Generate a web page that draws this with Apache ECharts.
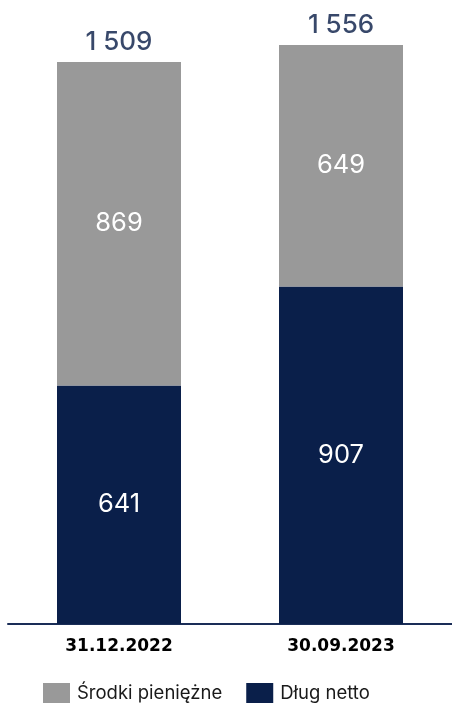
<!DOCTYPE html>
<html>
<head>
<meta charset="utf-8">
<script src="https://cdn.jsdelivr.net/npm/echarts@6/dist/echarts.min.js"></script>
<style>
  html, body { margin: 0; padding: 0; background: #ffffff; }
  #chart { width: 452px; height: 706px; }
</style>
</head>
<body>
<div id="chart"></div>
<script>
// Stacked bars: net debt at the bottom, cash on top, total above each column
const categories = ['31.12.2022', '30.09.2023'];
const netDebt = [641, 907];
const cash = [869, 649];
const totals = [1509, 1556];

const NAVY = '#0a1f4a';
const GREY = '#999999';
const FONT = 'Inter, "Noto Sans", sans-serif';

function fmt(v) {
  return String(v).replace(/\B(?=(\d{3})+(?!\d))/g, ' ');
}

const chart = echarts.init(document.getElementById('chart'), null, { renderer: 'canvas' });

chart.setOption({
  animation: false,
  backgroundColor: '#ffffff',
  grid: { left: 8, width: 448, top: 28.5, bottom: 82, containLabel: false },
  legend: {
    data: ['Środki pieniężne', 'Dług netto'],
    left: 38,
    top: 678,
    itemWidth: 27,
    itemHeight: 20,
    itemGap: 24,
    icon: 'rect',
    textStyle: { fontFamily: FONT, fontSize: 18.5, color: '#1a1a1a', padding: [0, 0, 0, 2] }
  },
  xAxis: {
    type: 'category',
    data: categories,
    axisTick: { show: false },
    axisLine: { lineStyle: { color: '#1a2d57', width: 2 } },
    axisLabel: {
      fontFamily: '"DejaVu Sans", sans-serif',
      fontWeight: 'bold',
      fontSize: 17,
      color: '#000000',
      margin: 14
    }
  },
  yAxis: {
    type: 'value',
    min: 0,
    max: 1600,
    show: false,
    splitLine: { show: false }
  },
  series: [
    {
      name: 'Dług netto',
      type: 'bar',
      stack: 'total',
      barWidth: 124,
      data: netDebt,
      itemStyle: { color: NAVY },
      label: {
        show: true,
        position: 'inside',
        fontFamily: FONT,
        fontSize: 25.5,
        color: '#ffffff',
        formatter: p => fmt(p.value)
      }
    },
    {
      name: 'Środki pieniężne',
      type: 'bar',
      stack: 'total',
      barWidth: 124,
      data: cash,
      itemStyle: { color: GREY },
      label: {
        show: true,
        position: 'inside',
        fontFamily: FONT,
        fontSize: 25.5,
        color: '#ffffff',
        formatter: p => fmt(p.value)
      }
    },
    {
      name: 'Suma',
      type: 'scatter',
      data: totals,
      symbolSize: 0,
      silent: true,
      label: {
        show: true,
        position: 'top',
        distance: 7,
        fontFamily: FONT,
        fontWeight: 500,
        fontSize: 26,
        color: '#061a45',
        formatter: p => fmt(p.value)
      }
    }
  ]
});
</script>
</body>
</html>
